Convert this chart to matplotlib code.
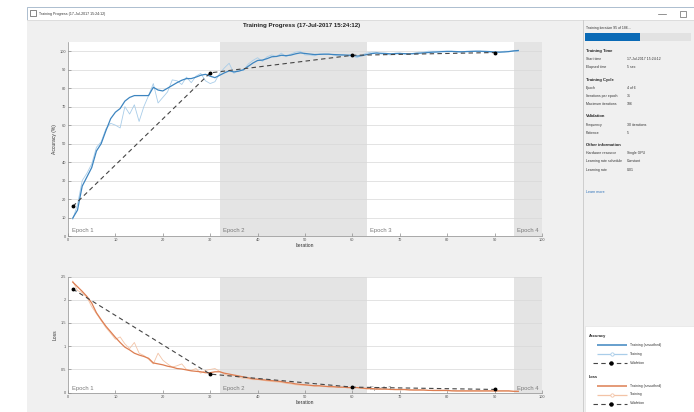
import matplotlib
matplotlib.use('Agg')
import matplotlib.pyplot as plt
from matplotlib.patches import Rectangle

plt.rcParams['font.family'] = ['Liberation Sans', 'DejaVu Sans']

# ---- data ----
iterations = list(range(1, 96))

acc_smooth = [9.7, 14, 27, 32, 37, 46, 50, 57, 63.5, 67,
              69, 73, 75, 76, 76, 76, 76, 80.5, 79, 78.5,
              80, 81.5, 83, 84.3, 85.2, 85.2, 86, 87, 87.5, 86.5,
              85.7, 87, 88.3, 89.4, 88.8, 89.2, 90, 91.8, 93.6, 95,
              95.2, 96, 97, 97.2, 97.8, 97.6, 97.9, 98.6, 99.1, 98.8,
              98.5, 98.2, 98.3, 98.4, 98.4, 98.2, 98.1, 98, 97.9, 97.8,
              97.4, 97.6, 98.2, 98.7, 99, 98.9, 98.8, 98.6, 98.7, 98.8,
              98.7, 98.6, 98.7, 98.9, 99.1, 99.3, 99.5, 99.6, 99.8, 99.9,
              99.9, 99.8, 99.7, 99.8, 99.9, 100, 100, 99.9, 99.8, 99.6,
              99.5, 99.6, 99.8, 100.2, 100.4]

acc_raw = [9, 17, 30, 34, 39, 48, 51, 58, 61, 60,
           58.5, 70, 66, 71, 62, 70, 76, 82.5, 72, 75,
           78, 84.5, 84, 82, 86, 83, 86.5, 88, 84, 82.5,
           83.5, 88, 91, 93.5, 88, 90, 89.5, 93, 95, 96.5,
           94.5, 97, 98, 97, 99, 97, 98.5, 99.5, 100, 98,
           98, 97.5, 98.5, 98.5, 98.5, 98, 97.5, 98, 97.5, 97.5,
           96.5, 98, 99, 99.5, 99.5, 98.5, 98.5, 98, 99, 99,
           98.5, 98.5, 99, 99.5, 99.5, 100, 100, 100, 100, 100,
           100, 99.5, 99.5, 100, 100, 100, 100, 99.5, 99.5, 99.5,
           99.5, 100, 100, 100, 100]

loss_smooth = [2.38, 2.28, 2.18, 2.07, 1.93, 1.72, 1.57, 1.43, 1.31, 1.19,
               1.08, 0.98, 0.92, 0.85, 0.81, 0.78, 0.74, 0.64, 0.62, 0.60,
               0.57, 0.55, 0.52, 0.51, 0.49, 0.47, 0.46, 0.45, 0.43, 0.43,
               0.45, 0.45, 0.42, 0.40, 0.38, 0.36, 0.34, 0.32, 0.30, 0.29,
               0.28, 0.27, 0.26, 0.25, 0.24, 0.22, 0.21, 0.19, 0.18, 0.17,
               0.16, 0.15, 0.15, 0.14, 0.13, 0.13, 0.12, 0.12, 0.11, 0.11,
               0.11, 0.10, 0.09, 0.09, 0.08, 0.08, 0.08, 0.07, 0.07, 0.07,
               0.07, 0.06, 0.06, 0.06, 0.06, 0.05, 0.05, 0.05, 0.05, 0.05,
               0.04, 0.04, 0.04, 0.04, 0.04, 0.04, 0.04, 0.04, 0.04, 0.04,
               0.04, 0.04, 0.04, 0.03, 0.03]

loss_raw = [2.40, 2.20, 2.15, 2.05, 1.85, 1.70, 1.55, 1.40, 1.28, 1.15,
            1.20, 1.05, 0.95, 1.08, 0.85, 0.80, 0.72, 0.62, 0.85, 0.70,
            0.62, 0.55, 0.58, 0.62, 0.50, 0.48, 0.52, 0.42, 0.48, 0.50,
            0.52, 0.46, 0.40, 0.36, 0.37, 0.33, 0.31, 0.30, 0.28, 0.28,
            0.27, 0.25, 0.24, 0.23, 0.22, 0.20, 0.19, 0.17, 0.16, 0.16,
            0.15, 0.14, 0.14, 0.13, 0.13, 0.12, 0.12, 0.11, 0.11, 0.10,
            0.11, 0.09, 0.08, 0.08, 0.08, 0.07, 0.07, 0.07, 0.06, 0.06,
            0.06, 0.06, 0.05, 0.05, 0.05, 0.05, 0.04, 0.04, 0.04, 0.04,
            0.04, 0.03, 0.03, 0.03, 0.03, 0.03, 0.03, 0.03, 0.03, 0.03,
            0.03, 0.03, 0.03, 0.03, 0.03]

val_iter = [1, 30, 60, 90]
val_acc = [16, 88.3, 97.8, 99.3]
val_loss = [2.23, 0.40, 0.12, 0.07]

epoch_starts = [0, 32, 63, 94]
epoch_names = ['Epoch 1', 'Epoch 2', 'Epoch 3', 'Epoch 4']

info_rows = [
    ('Training Time', None),
    ('Start time', '17-Jul-2017 15:24:12'),
    ('Elapsed time', '5 sec'),
    ('Training Cycle', None),
    ('Epoch', '4 of 6'),
    ('Iterations per epoch', '31'),
    ('Maximum iterations', '186'),
    ('Validation', None),
    ('Frequency', '30 iterations'),
    ('Patience', '5'),
    ('Other information', None),
    ('Hardware resource', 'Single GPU'),
    ('Learning rate schedule', 'Constant'),
    ('Learning rate', '0.01'),
]

W, H = 694, 412
BLUE = '#3d85c0'
BLUE_LIGHT = '#a9cde9'
ORANGE = '#dd7e52'
ORANGE_LIGHT = '#f3c3a6'
VAL = '#454545'
DASH = (0, (4, 3))

fig = plt.figure(figsize=(W / 100, H / 100), dpi=100)
fig.patch.set_facecolor('white')

# window chrome drawn in pixel coordinates
bg = fig.add_axes([0, 0, 1, 1], zorder=0)
bg.set_xlim(0, W)
bg.set_ylim(H, 0)
bg.axis('off')
bg.add_patch(Rectangle((27, 7), W - 27, H - 7, facecolor='white',
                       edgecolor='#9fb3c8', linewidth=0.6))
bg.add_patch(Rectangle((27.5, 20), W - 27.5, H - 20, facecolor='#f0f0f0',
                       edgecolor='none'))
bg.plot([27, W], [20, 20], color='#d6d6d6', linewidth=0.5)
bg.add_patch(Rectangle((30, 10), 6, 6, facecolor='white',
                       edgecolor='#555555', linewidth=0.5))
bg.text(39, 13.5, 'Training Progress (17-Jul-2017 15:24:12)',
        fontsize=2.6, color='#333333', va='center')
bg.plot([658, 666], [13.5, 13.5], color='#666666', linewidth=0.5)
bg.add_patch(Rectangle((680, 10.5), 6, 6, facecolor='none',
                       edgecolor='#666666', linewidth=0.5))

# side panel
bg.plot([583, 583], [20, H], color='#c8c8c8', linewidth=0.6)
bg.text(586, 28, 'Training iteration 95 of 186...', fontsize=2.5,
        color='#333333', va='center')
bg.add_patch(Rectangle((585, 33), 106, 8, facecolor='#e2e2e2',
                       edgecolor='none'))
bg.add_patch(Rectangle((585, 33), 55, 8, facecolor='#0a6ab6',
                       edgecolor='none'))

y = 51
for label, value in info_rows:
    if value is None:
        if label != 'Training Time':
            y += 4
        bg.text(586, y, label, fontsize=3.0, fontweight='bold',
                color='#222222', va='center')
    else:
        bg.text(586, y, label, fontsize=2.5, color='#333333', va='center')
        bg.text(627, y, value, fontsize=2.5, color='#333333', va='center')
    y += 8.2
bg.text(586, 192, 'Learn more', fontsize=2.6, color='#2a6fb8',
        va='center')

# legend box
bg.add_patch(Rectangle((585, 326), W - 585, H - 326, facecolor='white',
                       edgecolor='#e0e0e0', linewidth=0.4))
legend_groups = [('Accuracy', 336, BLUE, BLUE_LIGHT),
                 ('Loss', 377, ORANGE, ORANGE_LIGHT)]
for name, y0, c_s, c_r in legend_groups:
    bg.text(589, y0, name, fontsize=2.8, fontweight='bold',
            color='#222222', va='center')
    bg.plot([597, 627], [y0 + 9, y0 + 9], color=c_s, linewidth=1.1,
            solid_capstyle='butt')
    bg.text(630, y0 + 9, 'Training (smoothed)', fontsize=2.5,
            color='#333333', va='center')
    bg.plot([597, 627], [y0 + 17.5, y0 + 17.5], color=c_r, linewidth=0.9,
            solid_capstyle='butt')
    bg.plot([612], [y0 + 17.5], marker='o', markersize=2.4,
            markerfacecolor='white', markeredgecolor=c_r,
            markeredgewidth=0.6)
    bg.text(630, y0 + 17.5, 'Training', fontsize=2.5, color='#333333',
            va='center')
    bg.plot([593, 627], [y0 + 26.5, y0 + 26.5], color=VAL,
            linewidth=0.8, linestyle=DASH)
    bg.plot([611], [y0 + 26.5], marker='o', markersize=2.2, color='black')
    bg.text(630, y0 + 26.5, 'Validation', fontsize=2.5, color='#333333',
            va='center')

fig.text(302 / W, 1 - 25 / H, 'Training Progress (17-Jul-2017 15:24:12)',
         fontsize=4.4, fontweight='bold', ha='center', va='center',
         color='#222222')


def style_axes(ax, ymax, yticks, yticklabels, ylabel):
    ax.set_facecolor('white')
    for i, start in enumerate(epoch_starts):
        end = epoch_starts[i + 1] if i + 1 < len(epoch_starts) else 100
        if i % 2 == 1:
            ax.axvspan(start, end, facecolor='#e4e4e4', edgecolor='none',
                       zorder=0)
        ax.text(start + 0.8, ymax * 0.015, epoch_names[i], fontsize=4.2,
                color='#7a7a7a', va='bottom', ha='left', zorder=1)
    ax.set_xlim(0, 100)
    ax.set_ylim(0, ymax)
    ax.set_xticks(range(0, 101, 10))
    ax.set_yticks(yticks)
    ax.set_yticklabels(yticklabels)
    ax.grid(axis='y', color='#d8d8d8', linewidth=0.5, zorder=0.5)
    ax.set_axisbelow(True)
    for side in ['top', 'right']:
        ax.spines[side].set_visible(False)
    for side in ['left', 'bottom']:
        ax.spines[side].set_color('#8c8c8c')
        ax.spines[side].set_linewidth(0.5)
    ax.tick_params(direction='in', length=2.5, width=0.5, colors='#8c8c8c',
                   labelsize=2.8, labelcolor='#555555', pad=1.5)
    ax.set_xlabel('Iteration', fontsize=3.6, color='#333333', labelpad=1)
    ax.set_ylabel(ylabel, fontsize=3.6, color='#333333', labelpad=2)


ax1 = fig.add_axes([68 / W, 1 - 236 / H, 474 / W, 194 / H], zorder=2)
style_axes(ax1, 105, range(0, 101, 10),
           [str(v) for v in range(0, 101, 10)], 'Accuracy (%)')
ax1.plot(iterations, acc_raw, color=BLUE_LIGHT, linewidth=0.6, zorder=2)
ax1.plot(iterations, acc_smooth, color=BLUE, linewidth=0.9, zorder=3)
ax1.plot(val_iter, val_acc, color=VAL, linewidth=0.8,
         linestyle=DASH, marker='o', markersize=1.8,
         markerfacecolor='black', markeredgecolor='black', zorder=4)

ax2 = fig.add_axes([68 / W, 1 - 392.7 / H, 474 / W, 116.2 / H], zorder=2)
style_axes(ax2, 2.5, [0, 0.5, 1, 1.5, 2, 2.5],
           ['0', '0.5', '1', '1.5', '2', '2.5'], 'Loss')
ax2.plot(iterations, loss_raw, color=ORANGE_LIGHT, linewidth=0.6, zorder=2)
ax2.plot(iterations, loss_smooth, color=ORANGE, linewidth=0.9, zorder=3)
ax2.plot(val_iter, val_loss, color=VAL, linewidth=0.8,
         linestyle=DASH, marker='o', markersize=1.8,
         markerfacecolor='black', markeredgecolor='black', zorder=4)

fig.savefig('out.png', dpi=100, facecolor=fig.get_facecolor())
